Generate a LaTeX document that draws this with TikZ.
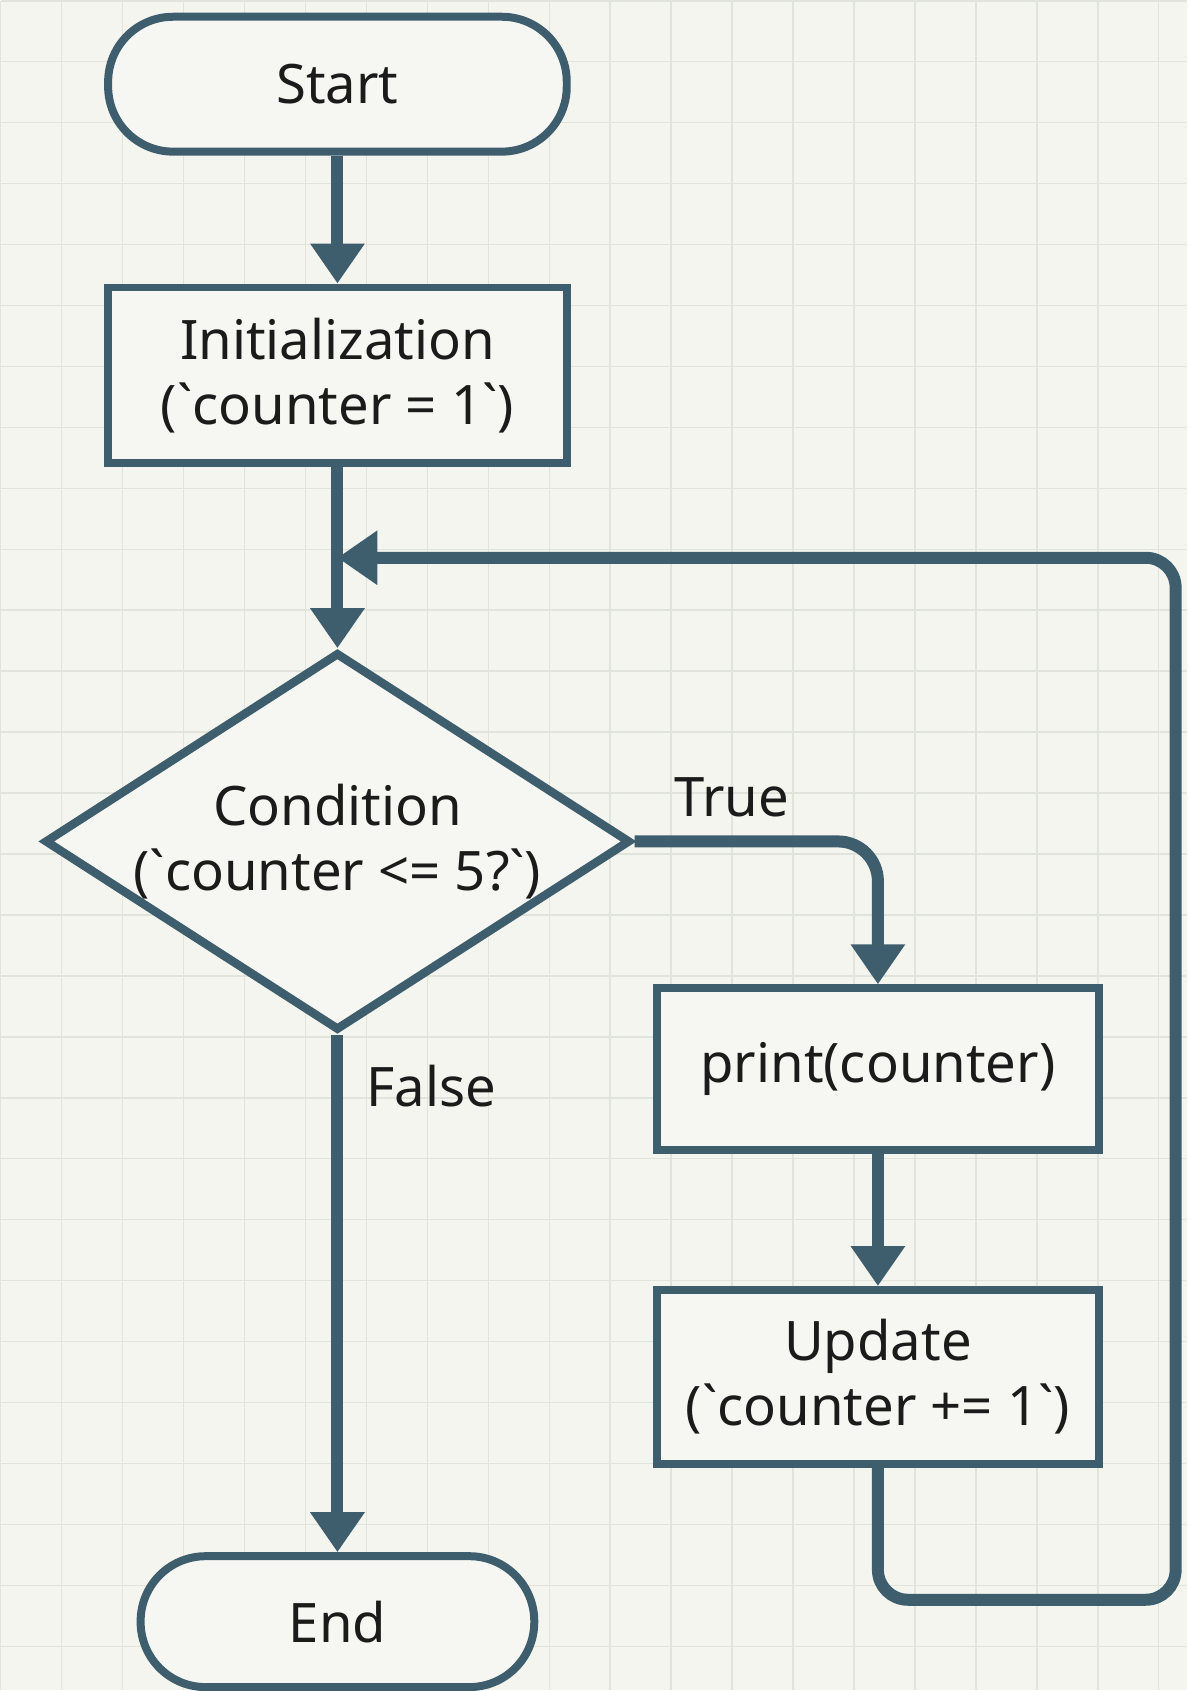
\documentclass[tikz,border=0pt]{standalone}
\usepackage{fontspec}
\setmainfont{Noto Sans}[Ligatures=TeXOff]
\usepackage{xcolor}
\usetikzlibrary{shapes.geometric,arrows.meta,positioning,calc}

\definecolor{flowline}{HTML}{3E5E6E}
\definecolor{paper}{HTML}{F4F5EF}
\definecolor{gridline}{HTML}{E1E4DB}
\definecolor{boxfill}{HTML}{F6F7F3}
\definecolor{ink}{HTML}{1B1B1B}

\begin{document}
\begin{tikzpicture}[
  terminal/.style={draw=flowline, line width=0.16cm, rectangle, rounded corners=1.3cm, fill=boxfill, text=ink, font=\fontsize{31}{37}\selectfont},
  process/.style={draw=flowline, line width=0.16cm, rectangle, align=center, fill=boxfill, text=ink, font=\fontsize{31}{37}\selectfont},
  decision/.style={draw=flowline, line width=0.17cm, diamond, aspect=1.55, inner sep=0pt, align=center, fill=boxfill, text=ink, font=\fontsize{31}{37}\selectfont},
  arr/.style={-{Triangle[length=0.8cm, width=1.04cm]}, line width=0.24cm, draw=flowline},
  lbl/.style={font=\fontsize{31}{37}\selectfont, text=ink, inner sep=0pt}
]

% paper and grid
\fill[paper] (0,0) rectangle (23.74,-33.82);
\draw[gridline, line width=0.03cm, step=1.22cm] (0,0) grid (23.74,-33.82);
\useasboundingbox (0,0) rectangle (23.74,-33.82);

% main column
\node[terminal, minimum width=9.18cm, minimum height=2.7cm] (start) at (6.74,-1.67) {Start};
\node[process, below=2.56cm of start, minimum width=9.2cm, minimum height=3.52cm] (init) {Initialization\\(`counter = 1`)};
\node[decision, below=3.62cm of init] (cond) {Condition\\(`counter <= 5?`)};
\node[terminal, below=10.36cm of cond, minimum width=7.88cm, minimum height=2.62cm] (end) {End};

% loop body
\node[process, anchor=north, minimum width=8.84cm, minimum height=3.24cm] (print) at ([xshift=4.87cm, yshift=-2.86cm]cond.east) {print(counter)};
\node[process, below=2.64cm of print, minimum width=8.84cm, minimum height=3.48cm] (upd) {Update\\(`counter += 1`)};

\draw[arr] (start) -- (init);
\draw[arr] (init) -- (cond);
\draw[arr, rounded corners=0.8cm] (cond.east) -| node[lbl, pos=0.2, above=0.36cm] {True} (print.north);
\draw[arr] (cond) -- node[lbl, right=0.46cm, pos=0.1] {False} (end);
\draw[arr] (print) -- (upd);

% back edge to the condition
\coordinate (join) at ($(init.south)!0.5!(cond.north)$);
\coordinate (loopcorner) at ($(upd.south)+(5.96cm,-2.64cm)$);
\draw[arr, rounded corners=0.6cm] (upd.south) |- (loopcorner) |- (join);

\end{tikzpicture}
\end{document}
